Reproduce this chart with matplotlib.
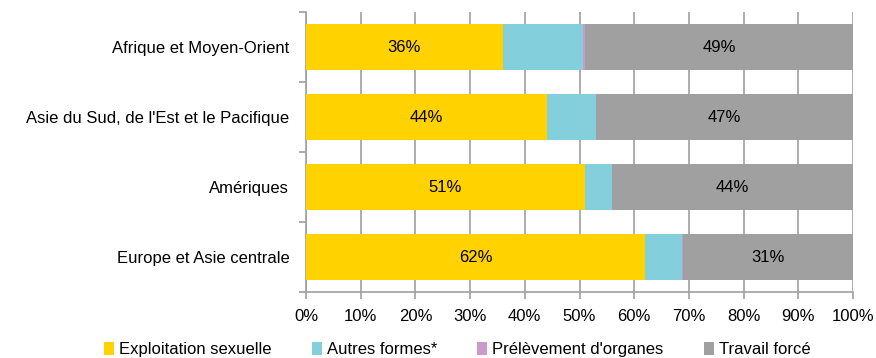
import matplotlib
matplotlib.use("Agg")
import matplotlib.pyplot as plt
from matplotlib.patches import Patch
import numpy as np

plt.rcParams['font.family'] = ['Liberation Sans', 'DejaVu Sans']

categories = ["Afrique et Moyen-Orient", "Asie du Sud, de l'Est et le Pacifique",
              "Amériques", "Europe et Asie centrale"]
series_names = ["Exploitation sexuelle", "Autres formes*", "Prélèvement d'organes", "Travail forcé"]
exploitation = [36, 44, 51, 62]
autres = [14.7, 9, 5, 6.7]
prelevement = [0.3, 0.0, 0.0, 0.3]
travail = [49, 47, 44, 31]
colors = ["#FFD200", "#83D0DC", "#CC99CC", "#A0A0A0"]
labelled = [True, False, False, True]

FS = 12

fig = plt.figure(figsize=(8.76, 3.58), dpi=100)
ax = fig.add_axes([306/876, 1-292/358, (853-306)/876, (292-12)/358])

y = np.arange(len(categories))
left = np.zeros(len(categories))
for vals, col, lab in zip([exploitation, autres, prelevement, travail], colors, labelled):
    vals = np.array(vals, dtype=float)
    ax.barh(y, vals, left=left, height=0.66, color=col, zorder=3)
    if lab:
        for yi, l, v in zip(y, left, vals):
            ax.text(l + v/2, yi, f"{v:.0f}%", ha='center', va='center', fontsize=FS, color='black', zorder=4)
    left += vals

ax.set_xlim(0, 100)
ax.set_ylim(len(categories) - 0.5, -0.5)
ax.set_xticks(np.arange(0, 101, 10))
ax.set_xticklabels([f"{v}%" for v in range(0, 101, 10)], fontsize=FS)
ax.set_yticks(y)
ax.set_yticklabels(categories, fontsize=FS)
ax.set_yticks(np.arange(-0.5, len(categories), 1), minor=True)
ax.tick_params(axis='y', which='major', length=0, pad=12)
ax.tick_params(axis='y', which='minor', length=5, color='#A0A0A0', width=1.2)
ax.tick_params(axis='x', which='major', length=5, color='#A0A0A0', width=1.2, pad=7)
ax.xaxis.grid(True, color='#A0A0A0', linewidth=1.2, zorder=0)
ax.set_axisbelow(True)
for s in ['top', 'right']:
    ax.spines[s].set_visible(False)
for s in ['left', 'bottom']:
    ax.spines[s].set_color('#A0A0A0')
    ax.spines[s].set_linewidth(1.2)

handles = [Patch(facecolor=c, edgecolor='none') for c in colors]
fig.legend(handles, series_names, loc='center', bbox_to_anchor=(0.522, 0.024), ncol=4,
           frameon=False, fontsize=FS, handlelength=0.6, handleheight=0.8,
           handletextpad=0.3, columnspacing=2.4)

fig.savefig("out.png", dpi=100)
